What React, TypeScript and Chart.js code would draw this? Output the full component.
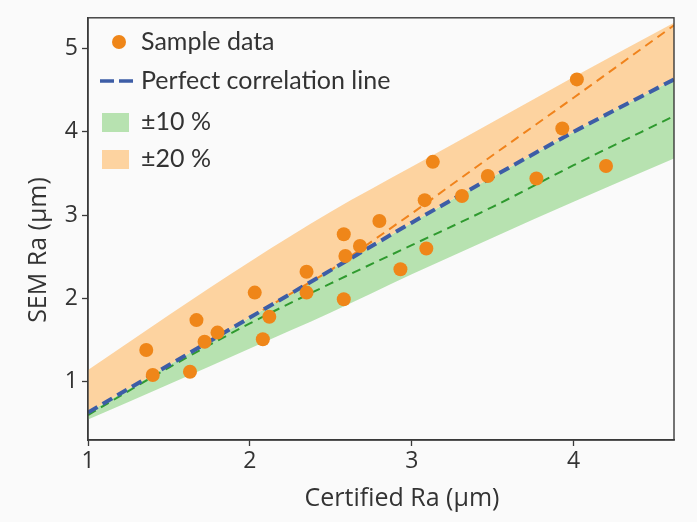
import React, { useEffect, useRef } from "react";
import { Chart, registerables } from "chart.js";

Chart.register(...registerables);

// Sample data (certified Ra vs SEM Ra)
const certifiedRa = [1.36, 1.40, 1.63, 1.67, 1.72, 1.80, 2.03, 2.08, 2.12, 2.35, 2.35, 2.58, 2.59, 2.58, 2.68, 2.80, 2.93, 3.08, 3.09, 3.13, 3.31, 3.47, 3.77, 3.93, 4.02, 4.20];
const semRa = [1.38, 1.08, 1.12, 1.74, 1.48, 1.59, 2.07, 1.51, 1.78, 2.32, 2.07, 2.77, 2.51, 1.99, 2.63, 2.93, 2.35, 3.18, 2.60, 3.64, 3.23, 3.47, 3.44, 4.04, 4.63, 3.59];

// Reference lines / bands sampled along x
const bandX = [1, 1.5, 2, 2.5, 3, 3.5, 4, 4.62];
const perfectLine = [0.63, 1.20, 1.77, 2.34, 2.91, 3.46, 4.00, 4.63];
const upper20 = [1.14, 1.80, 2.44, 3.04, 3.58, 4.12, 4.66, 5.31];
const lower10 = [0.545, 0.97, 1.40, 1.83, 2.29, 2.73, 3.16, 3.68];
const greenLine = [0.60, 1.17, 1.70, 2.18, 2.64, 3.10, 3.60, 4.19];
const orangeX = [2.0, 2.5, 3.0, 3.5, 4.0, 4.62];
const orangeLine = [1.77, 2.34, 3.02, 3.72, 4.41, 5.28];

const xTicks = [1, 2, 3, 4];
const yTicks = [1, 2, 3, 4, 5];

const seriesLabels = ["Sample data", "Perfect correlation line", "±10 %", "±20 %"];
const xTitle = "Certified Ra (µm)";
const yTitle = "SEM Ra (µm)";

const ORANGE_PT = "#ef8619";
const BLUE = "#3d5da6";
const ORANGE_FILL = "rgba(253, 211, 160, 1)";
const GREEN_FILL = "rgba(183, 226, 176, 1)";
const AXIS = "#3a3a3a";

const pts = (xs: number[], ys: number[]) => xs.map((x, i) => ({ x, y: ys[i] }));

export default function App() {
  const ref = useRef<HTMLCanvasElement | null>(null);

  useEffect(() => {
    const canvas = ref.current;
    if (!canvas) return;

    const overlay = {
      id: "overlay",
      afterDraw(chart: any) {
        const ctx = chart.ctx;
        const a = chart.chartArea;
        ctx.save();
        // frame
        ctx.strokeStyle = AXIS;
        ctx.lineWidth = 1.4;
        ctx.strokeRect(a.left, a.top, a.right - a.left, a.bottom - a.top);

        // axis titles
        ctx.fillStyle = "#333";
        ctx.font = "25px 'Open Sans'";
        ctx.textAlign = "center";
        ctx.textBaseline = "middle";
        ctx.fillText(xTitle, 402, 499);
        ctx.save();
        ctx.translate(39, 250);
        ctx.rotate(-Math.PI / 2);
        ctx.fillText(yTitle, 0, 0);
        ctx.restore();

        // legend
        ctx.font = "25px Lato";
        ctx.textAlign = "left";
        ctx.fillStyle = ORANGE_PT;
        ctx.beginPath();
        ctx.arc(119, 42, 7, 0, Math.PI * 2);
        ctx.fill();

        ctx.strokeStyle = BLUE;
        ctx.lineWidth = 3.5;
        ctx.setLineDash([14, 5]);
        ctx.beginPath();
        ctx.moveTo(100, 81);
        ctx.lineTo(133, 81);
        ctx.stroke();
        ctx.setLineDash([]);

        ctx.fillStyle = GREEN_FILL;
        ctx.fillRect(102, 113, 27, 19);
        ctx.fillStyle = ORANGE_FILL;
        ctx.fillRect(102, 150, 27, 19);

        ctx.fillStyle = "#333";
        const ys = [42, 81, 122, 159];
        seriesLabels.forEach((t, i) => ctx.fillText(t, 141, ys[i]));
        ctx.restore();
      },
    };

    const chart = new Chart(canvas, {
      type: "scatter",
      data: {
        datasets: [
          {
            label: seriesLabels[0],
            data: pts(certifiedRa, semRa),
            backgroundColor: ORANGE_PT,
            borderWidth: 0,
            pointRadius: 7,
            showLine: false,
          },
          {
            label: seriesLabels[1],
            data: pts(bandX, perfectLine),
            showLine: true,
            borderColor: BLUE,
            borderWidth: 4,
            borderDash: [11, 6],
            pointRadius: 0,
            cubicInterpolationMode: "monotone",
          },
          {
            label: "+20 % line",
            data: pts(orangeX, orangeLine),
            showLine: true,
            borderColor: "#f0831c",
            borderWidth: 2,
            borderDash: [9, 6],
            pointRadius: 0,
          },
          {
            label: "-10 % line",
            data: pts(bandX, greenLine),
            showLine: true,
            borderColor: "#2f9a2f",
            borderWidth: 2,
            borderDash: [9, 6],
            pointRadius: 0,
            cubicInterpolationMode: "monotone",
          },
          {
            label: seriesLabels[3],
            data: pts(bandX, upper20),
            showLine: true,
            borderWidth: 0,
            borderColor: "rgba(0,0,0,0)",
            backgroundColor: ORANGE_FILL,
            pointRadius: 0,
            fill: 1,
            cubicInterpolationMode: "monotone",
          },
          {
            label: seriesLabels[2],
            data: pts(bandX, lower10),
            showLine: true,
            borderWidth: 0,
            borderColor: "rgba(0,0,0,0)",
            backgroundColor: GREEN_FILL,
            pointRadius: 0,
            fill: 1,
            cubicInterpolationMode: "monotone",
          },
        ],
      },
      options: {
        animation: false,
        responsive: false,
        devicePixelRatio: 1,
        layout: { padding: { top: 17, right: 23, left: 0, bottom: 0 } },
        plugins: {
          legend: { display: false },
          tooltip: { enabled: false },
          filler: { drawTime: "beforeDatasetsDraw" },
        },
        scales: {
          x: {
            type: "linear",
            min: 1,
            max: 4.62,
            afterFit: (s: any) => { s.height = 82; },
            afterBuildTicks: (s: any) => { s.ticks = xTicks.map((v) => ({ value: v })); },
            ticks: { font: { size: 23, family: "'Open Sans'" }, color: "#333", padding: 2 },
            grid: { drawOnChartArea: false, drawTicks: true, tickLength: 6, tickColor: AXIS, tickWidth: 1.3 },
            border: { display: true, color: AXIS, width: 1.4 },
          },
          y: {
            type: "linear",
            min: 0.3,
            max: 5.37,
            afterFit: (s: any) => { s.width = 88; },
            afterBuildTicks: (s: any) => { s.ticks = yTicks.map((v) => ({ value: v })); },
            ticks: { font: { size: 23, family: "'Open Sans'" }, color: "#333", padding: 4 },
            grid: { drawOnChartArea: false, drawTicks: true, tickLength: 6, tickColor: AXIS, tickWidth: 1.3 },
            border: { display: true, color: AXIS, width: 1.4 },
          },
        },
      },
      plugins: [overlay],
    } as any);

    return () => chart.destroy();
  }, []);

  return (
    <div style={{ position: "absolute", left: 0, top: 0, width: 697, height: 522, background: "#fafafa" }}>
      <canvas ref={ref} width={697} height={522} />
    </div>
  );
}
